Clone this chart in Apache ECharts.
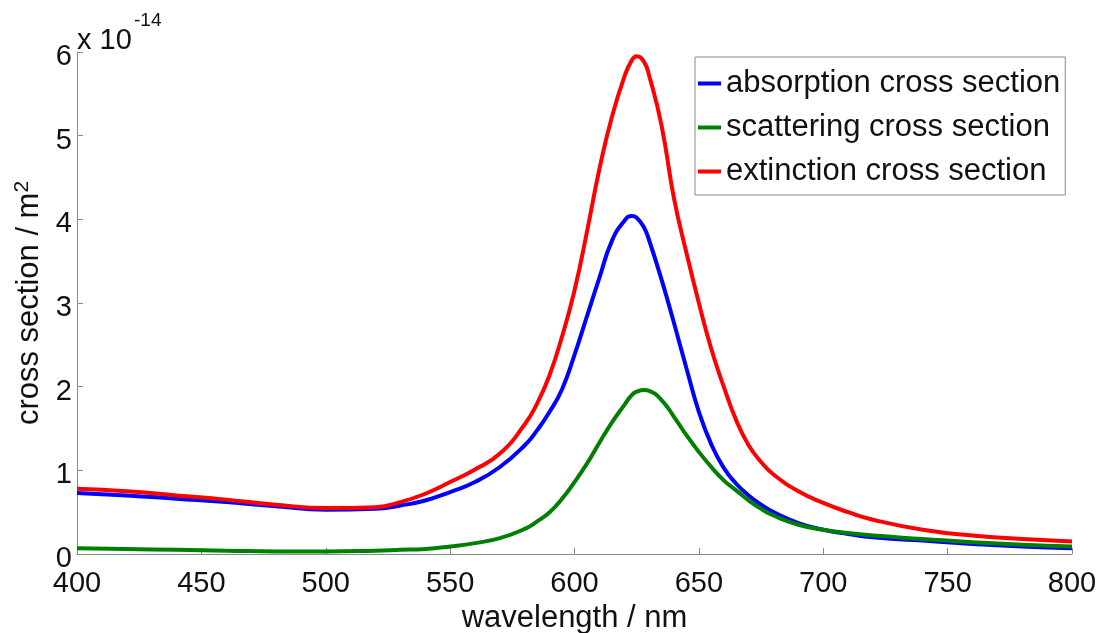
<!DOCTYPE html>
<html>
<head>
<meta charset="utf-8">
<script src="https://cdn.jsdelivr.net/npm/echarts@6/dist/echarts.min.js"></script>
<style>
html,body{margin:0;padding:0;background:#fff;}
#chart{width:1102px;height:633px;}
</style>
</head>
<body>
<div id="chart"></div>
<script>
// wavelength in nm
const wavelength = [400,420,440,460,480,500,520,530,540,550,560,570,580,585,590,595,600,605,610,615,620,623,625,628,630,635,640,645,650,655,660,665,670,675,680,690,700,710,720,740,760,780,800];
// cross sections in units of 1e-14 m^2
const absorption = [0.73,0.70,0.66,0.62,0.57,0.53,0.54,0.58,0.64,0.74,0.86,1.04,1.30,1.48,1.70,1.97,2.38,2.84,3.30,3.74,3.98,4.04,4.02,3.90,3.75,3.28,2.76,2.22,1.70,1.31,1.03,0.84,0.70,0.59,0.50,0.37,0.29,0.24,0.20,0.16,0.12,0.09,0.07];
const scattering = [0.07,0.06,0.05,0.04,0.03,0.03,0.04,0.05,0.06,0.09,0.13,0.19,0.30,0.39,0.50,0.66,0.86,1.08,1.33,1.57,1.78,1.90,1.94,1.96,1.95,1.84,1.64,1.42,1.22,1.04,0.88,0.76,0.64,0.54,0.46,0.35,0.29,0.25,0.22,0.18,0.14,0.11,0.09];
const extinction = [0.78,0.75,0.70,0.65,0.59,0.55,0.56,0.62,0.72,0.86,1.01,1.20,1.55,1.80,2.14,2.60,3.15,3.85,4.60,5.22,5.70,5.90,5.95,5.88,5.72,5.12,4.25,3.60,3.00,2.45,2.00,1.60,1.30,1.10,0.95,0.75,0.61,0.50,0.41,0.29,0.22,0.18,0.15];
const seriesNames = ['absorption cross section','scattering cross section','extinction cross section'];
const xTicks = {min:400,max:800,interval:50};
const yTicks = {min:0,max:6,interval:1};

const FONT = '"Liberation Sans", Arial, Helvetica, sans-serif';
function pairs(ys){ return wavelength.map((x,i)=>[x, ys[i]]); }

const chart = echarts.init(document.getElementById('chart'), null, {renderer:'canvas'});
chart.setOption({
  animation:false,
  backgroundColor:'#fff',
  textStyle:{fontFamily:FONT},
  grid:{left:77,right:30,top:52,bottom:79,containLabel:false,outerBoundsMode:'none'},
  legend:{
    orient:'vertical', left:695, top:57,
    data:seriesNames,
    icon:'rect', itemWidth:23, itemHeight:4, itemGap:13,
    padding:[11,5,8,3],
    borderColor:'#888', borderWidth:1, backgroundColor:'#fff',
    textStyle:{fontSize:31, lineHeight:31, color:'#111', fontFamily:FONT}
  },
  xAxis:{
    type:'value', min:xTicks.min, max:xTicks.max, interval:xTicks.interval,
    name:'wavelength / nm', nameLocation:'middle', nameGap:46,
    nameTextStyle:{fontSize:31, color:'#111', fontFamily:FONT},
    axisLine:{show:true, lineStyle:{color:'#888', width:1}},
    axisTick:{show:true, inside:true, length:6, lineStyle:{color:'#888'}},
    axisLabel:{fontSize:29, color:'#111', margin:15, fontFamily:FONT},
    splitLine:{show:false}
  },
  yAxis:{
    type:'value', min:yTicks.min, max:yTicks.max, interval:yTicks.interval,
    name:'{a|cross section / m}{b|2}', nameLocation:'middle', nameGap:21,
    nameTextStyle:{color:'#111', fontFamily:FONT,
      rich:{a:{fontSize:31, lineHeight:36, color:'#111', fontFamily:FONT},
            b:{fontSize:21, lineHeight:21, verticalAlign:'top', color:'#111', fontFamily:FONT}}},
    axisLine:{show:true, lineStyle:{color:'#888', width:1}},
    axisTick:{show:true, inside:true, length:6, lineStyle:{color:'#888'}},
    axisLabel:{color:'#111', margin:5, fontFamily:FONT,
      formatter: v => '{v|' + v + '}',
      rich:{v:{fontSize:29, color:'#111', fontFamily:FONT, padding:[10,0,0,0]}}},
    splitLine:{show:false}
  },
  graphic:[
    {type:'text', left:77, top:26, style:{text:'x 10', fontSize:29, fill:'#111', font:'29px ' + FONT}},
    {type:'text', left:134, top:11, style:{text:'-14', fontSize:19, fill:'#111', font:'19px ' + FONT}}
  ],
  series:[
    {name:seriesNames[0], type:'line', data:pairs(absorption), smooth:0.5, showSymbol:false,
     lineStyle:{color:'#0000ff', width:4}, itemStyle:{color:'#0000ff'}},
    {name:seriesNames[1], type:'line', data:pairs(scattering), smooth:0.5, showSymbol:false,
     lineStyle:{color:'#008000', width:4}, itemStyle:{color:'#008000'}},
    {name:seriesNames[2], type:'line', data:pairs(extinction), smooth:0.5, showSymbol:false,
     lineStyle:{color:'#ff0000', width:4}, itemStyle:{color:'#ff0000'}}
  ]
});
</script>
</body>
</html>
